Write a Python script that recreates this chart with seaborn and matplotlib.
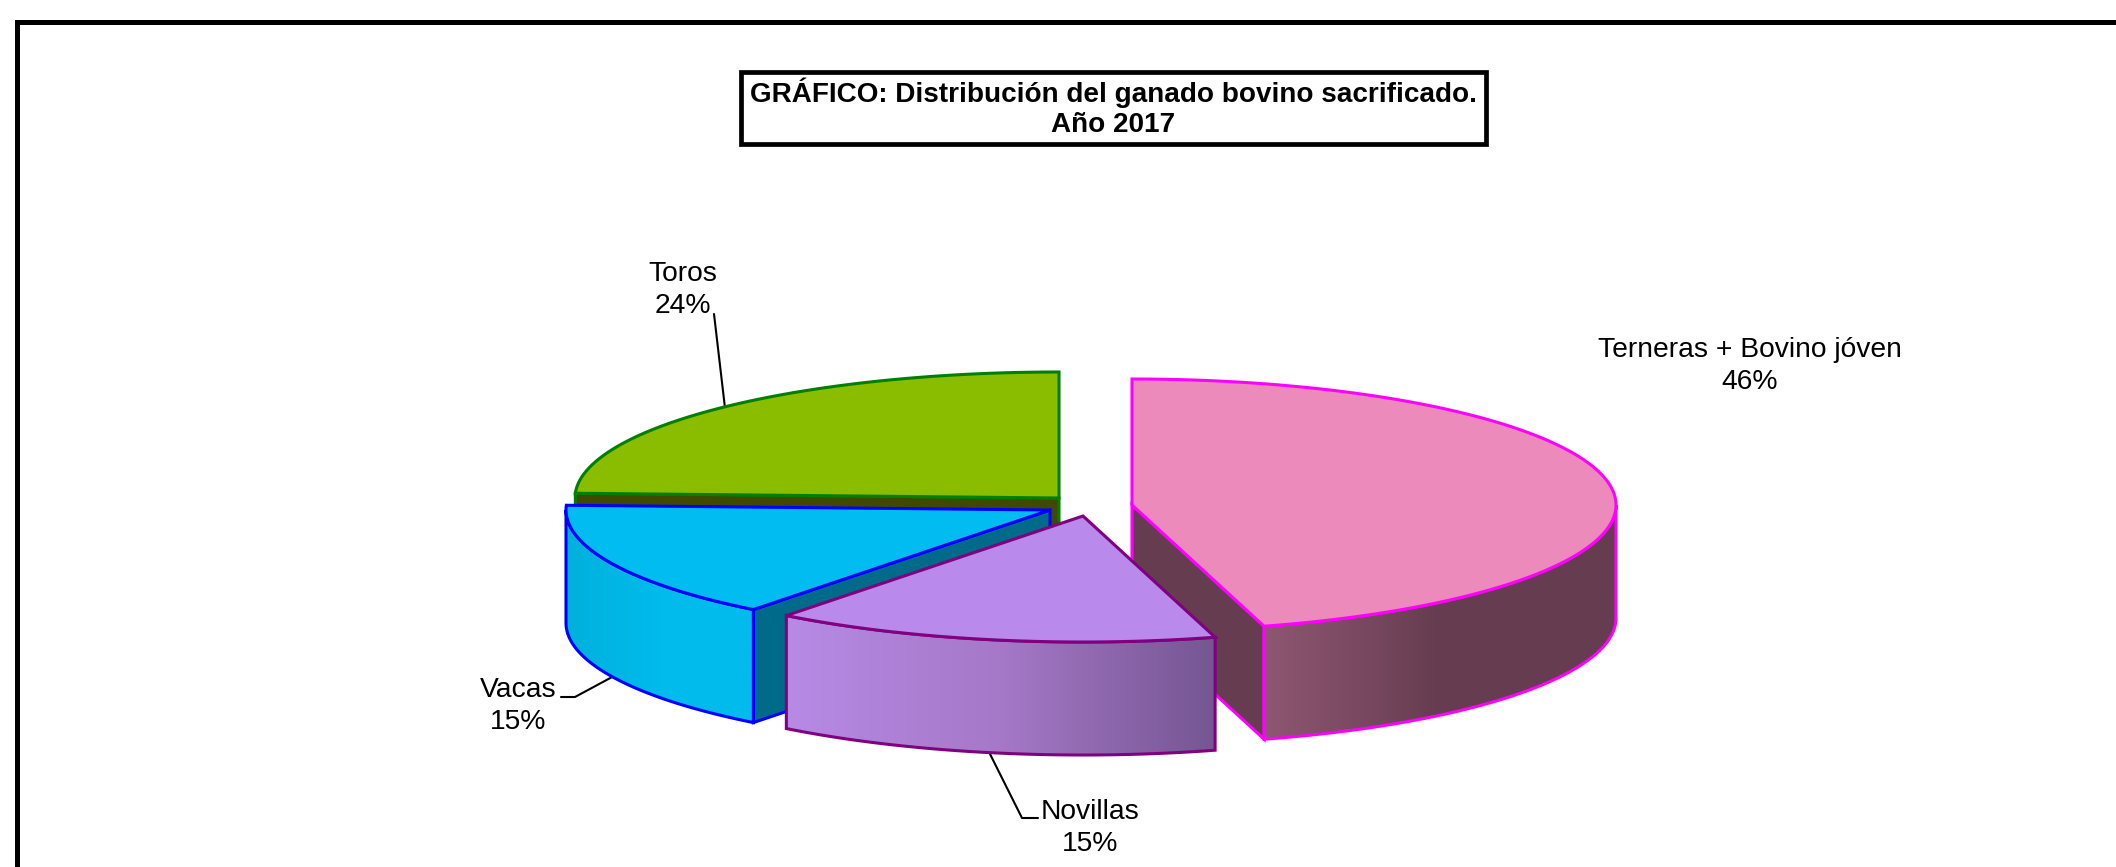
import numpy as np
import matplotlib
matplotlib.use("Agg")
import matplotlib.pyplot as plt
from matplotlib.patches import Polygon, Rectangle
import seaborn as sns

# data
categories = ["Terneras + Bovino jóven", "Novillas", "Vacas", "Toros"]
shares = [45.6, 14.9, 15.1, 24.4]
title_lines = ["GRÁFICO: Distribución del ganado bovino sacrificado.", "Año 2017"]

# styling
top_colors = ["#ec8abb", "#b98aeb", "#00bcf0", "#8abc00"]
edge_colors = ["#ff00ff", "#800080", "#0000ff", "#008000"]
face_colors = ["#663c50", "#663c50", "#006a8a", "#3f4a00"]
side_gradients = [["#8e5672", "#7b4a62", "#663c50", "#663c50", "#663c50"],
                  ["#b78ae6", "#a578c8", "#755692"],
                  ["#00b0dc", "#00bbec", "#00bbec"],
                  ["#3f4a00", "#3f4a00"]]
centers = [(1132, 505), (1083, 516), (1050, 510), (1059, 498)]
label_xy = [(1750, 366), (1090, 828), (518, 706), (683, 290)]
leaders = [None,
           [(1038, 818), (1022, 818), (990, 754)],
           [(561, 697), (575, 697), (614, 676)],
           [(714, 314), (725, 408)]]
RX, RY, DEPTH = 484, 126, 113
EDGE_LW = 2.2
FONT = "Liberation Sans"

sns.set_theme(style="white")
plt.rcParams["font.family"] = [FONT, "DejaVu Sans"]

fig = plt.figure(figsize=(21.16, 8.67), dpi=100)
ax = fig.add_axes([0, 0, 1, 1])

i_order = {3: 2, 2: 3, 0: 4, 1: 5}


def rim(center, t0, t1, dy=0.0, n=160):
    th = np.radians(np.linspace(t0, t1, n))
    return np.column_stack([center[0] + RX * np.sin(th),
                            center[1] - RY * np.cos(th) + dy])


def draw_slice(i, t0, t1):
    c = centers[i]
    color, edge = top_colors[i], edge_colors[i]
    # radial faces turned towards the viewer
    for t, visible in ((t0, 180 < t0 < 360), (t1, 90 <= t1 < 180)):
        if visible:
            p = rim(c, t, t, n=1)[0]
            poly = [c, p, p + [0, DEPTH], (c[0], c[1] + DEPTH)]
            ax.add_patch(Polygon(poly, closed=True, fc=face_colors[i], ec=edge,
                                 lw=EDGE_LW, zorder=i_order[i]))
    # outer wall with horizontal gradient
    a, b = max(t0, 90), min(t1, 270)
    if b > a:
        upper = rim(c, a, b)
        lower = rim(c, b, a, dy=DEPTH)
        wall = np.vstack([upper, lower])
        x0, x1 = wall[:, 0].min(), wall[:, 0].max()
        y0, y1 = wall[:, 1].min(), wall[:, 1].max()
        cmap = sns.blend_palette(side_gradients[i], as_cmap=True)
        im = ax.imshow(np.linspace(0, 1, 256)[None, :], cmap=cmap, aspect="auto",
                       extent=(x0, x1, y1, y0), zorder=i_order[i] + 0.1,
                       interpolation="bilinear")
        patch = Polygon(wall, closed=True, fc="none", ec=edge, lw=EDGE_LW,
                        zorder=i_order[i] + 0.2)
        ax.add_patch(patch)
        im.set_clip_path(patch)
    # top face
    top = np.vstack([[c], rim(c, t0, t1)])
    ax.add_patch(Polygon(top, closed=True, fc=color, ec=edge, lw=EDGE_LW,
                         joinstyle="miter", zorder=i_order[i] + 0.3))


bounds = np.concatenate([[0], np.cumsum(shares)]) / np.sum(shares) * 360
for i in range(len(categories)):
    draw_slice(i, bounds[i], bounds[i + 1])

# labels and leader lines
for name, share, (x, y), lead in zip(categories, shares, label_xy, leaders):
    ax.text(x, y, f"{name}\n{round(share)}%", ha="center", va="center", fontsize=20.3,
            linespacing=1.29, color="black", zorder=10)
    if lead:
        xs, ys = zip(*lead)
        ax.plot(xs, ys, color="black", lw=1.5, zorder=1)

# title box
ax.add_patch(Rectangle((741, 72), 745, 72, fc="white", ec="black", lw=3.4, zorder=9))
ax.text(1113, 93, title_lines[0], ha="center", va="center", fontsize=20.1,
        fontweight="bold", color="black", zorder=10)
ax.text(1113, 125, title_lines[1], ha="center", va="center", fontsize=20.1,
        fontweight="bold", color="black", zorder=10)

# open outer frame
ax.plot([16.5, 16.5, 2116], [867, 21.5, 21.5], color="black", lw=3.6,
        solid_joinstyle="miter", zorder=9)

ax.set_xlim(0, 2116)
ax.set_ylim(867, 0)
ax.set_axis_off()
fig.savefig("out.png", dpi=100, facecolor="white")
